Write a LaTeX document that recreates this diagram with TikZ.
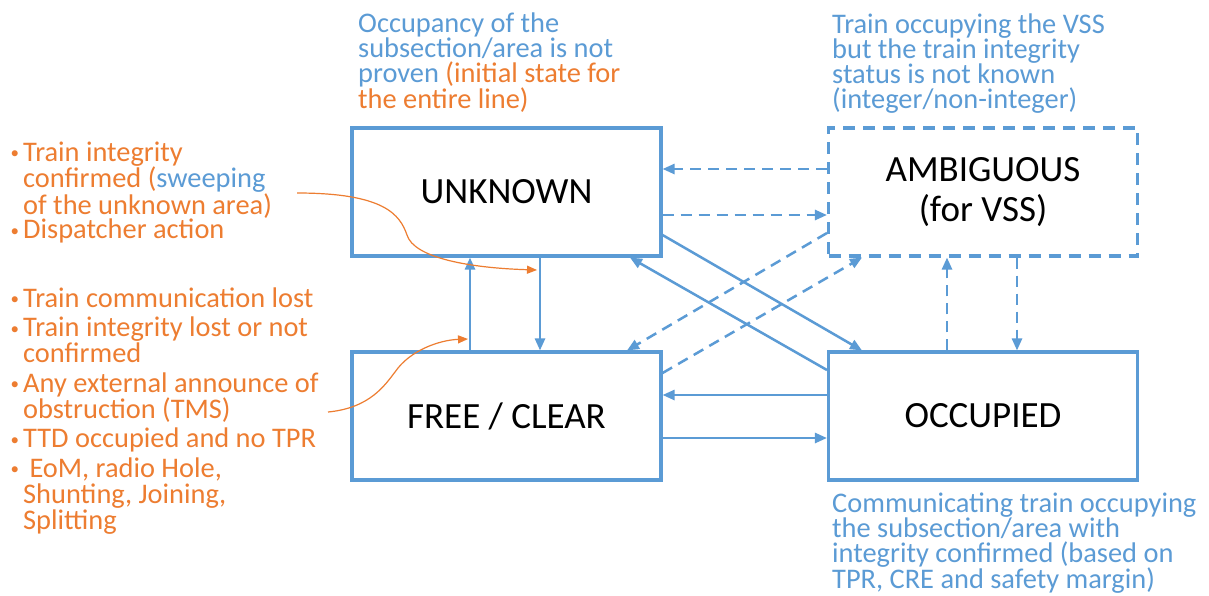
\documentclass[tikz,border=0pt]{standalone}
\usepackage{fontspec}
\setmainfont{Carlito}
\usetikzlibrary{arrows.meta}
\definecolor{oblue}{HTML}{5B9BD5}
\definecolor{oorange}{HTML}{ED7D31}
% #1 baselineskip, #2 parskip, #3 content
\newcommand\desctext[3]{\vtop{\hsize=420pt\parindent=0pt\parskip=#2\raggedright\fontsize{28.4}{#1}\selectfont #3}}
\newcommand\bitem{\par\noindent\hangindent=14pt\hangafter=1\makebox[14pt][l]{\hspace*{1.5pt}\raisebox{2.5pt}{\fontsize{17}{17}\selectfont •}}}
\begin{document}
\begin{tikzpicture}[x=1pt,y=-1pt,
  box/.style={draw=oblue, line width=3.1pt, minimum width=309pt, minimum height=128pt,
    inner sep=0pt, font=\fontsize{37}{40}\selectfont, align=center},
  dbox/.style={box, dash pattern=on 12pt off 8pt},
  arr/.style={draw=oblue, line width=2.5pt, -{Triangle[length=12pt,width=10pt]}},
  darr/.style={arr, dash pattern=on 11pt off 7pt},
  oarr/.style={draw=oorange, line width=1.2pt, -{Triangle[length=10pt,width=8pt]}},
  desc/.style={anchor=base west, inner sep=0pt, text=oblue},
  odesc/.style={anchor=base west, inner sep=0pt, text=oorange}]
\fill[white] (0,0) rectangle (1209,595);
\useasboundingbox (0,0) rectangle (1209,595);

% state boxes
\node[box]  (unk)  at (506.5,192) {UNKNOWN};
\node[dbox] (amb)  at (983,192)   {AMBIGUOUS\\(for VSS)};
\node[box]  (free) at (506.5,416) {FREE / CLEAR};
\node[box]  (occ)  at (983,416)   {OCCUPIED};

% descriptions
\node[desc] (dunk) at (358,32) {\desctext{25pt}{0pt}{Occupancy of the\newline subsection/area is not\newline proven {\color{oorange}(initial state for\newline the entire line)}}};
\node[desc] (damb) at (832,33) {\desctext{25pt}{0pt}{Train occupying the VSS\newline but the train integrity\newline status is not known\newline (integer/non-integer)}};
\node[desc] (docc) at (832,512) {\desctext{25pt}{0pt}{Communicating train occupying\newline the subsection/area with\newline integrity confirmed (based on\newline TPR, CRE and safety margin)}};

% condition lists
\node[odesc] (cond1) at (9,161) {\desctext{24.5pt}{0pt}{\bitem Train integrity\newline confirmed ({\color{oblue}sweeping}\newline of the unknown area)
\bitem Dispatcher action}};
\node[odesc] (cond2) at (9,307) {\desctext{26pt}{3.5pt}{\bitem Train communication lost
\bitem Train integrity lost or not\newline confirmed
\bitem Any external announce of\newline obstruction (TMS)
\bitem TTD occupied and no TPR
\bitem \ EoM, radio Hole,\newline Shunting, Joining,\newline Splitting}};

% transitions between UNKNOWN and AMBIGUOUS
\draw[darr] (amb.west |- 0,169) -- (unk.east |- 0,169);
\draw[darr] (unk.east |- 0,215) -- (amb.west |- 0,215);
% diagonals
\draw[arr]  (unk.east |- 0,235) -- (occ.north -| 862,0);
\draw[arr]  (occ.west |- 0,370) -- (unk.south -| 630,0);
\draw[darr] (amb.west |- 0,233) -- (free.north -| 627,0);
\draw[darr] (free.east |- 0,373) -- (amb.south -| 862,0);
% UNKNOWN <-> FREE
\draw[arr] (free.north -| 470,0) -- (unk.south -| 470,0);
\draw[arr] (unk.south -| 540,0) -- (free.north -| 540,0);
% FREE <-> OCCUPIED
\draw[arr] (occ.west |- 0,395) -- (free.east |- 0,395);
\draw[arr] (free.east |- 0,438) -- (occ.west |- 0,438);
% OCCUPIED <-> AMBIGUOUS
\draw[darr] (occ.north -| 947,0) -- (amb.south -| 947,0);
\draw[darr] (amb.south -| 1017,0) -- (occ.north -| 1017,0);

% orange pointers
\coordinate (c1s) at (297,193);
\coordinate (c1e) at (537,270);
\coordinate (c2s) at (328,412);
\coordinate (c2e) at (468,339);
\draw[oarr] (c1s) .. controls (385,193) and (400,215) .. (407,235)
                  .. controls (414,258) and (470,268) .. (c1e);
\draw[oarr] (c2s) .. controls (370,408) and (385,385) .. (395,372)
                  .. controls (410,350) and (440,340) .. (c2e);
\end{tikzpicture}
\end{document}
